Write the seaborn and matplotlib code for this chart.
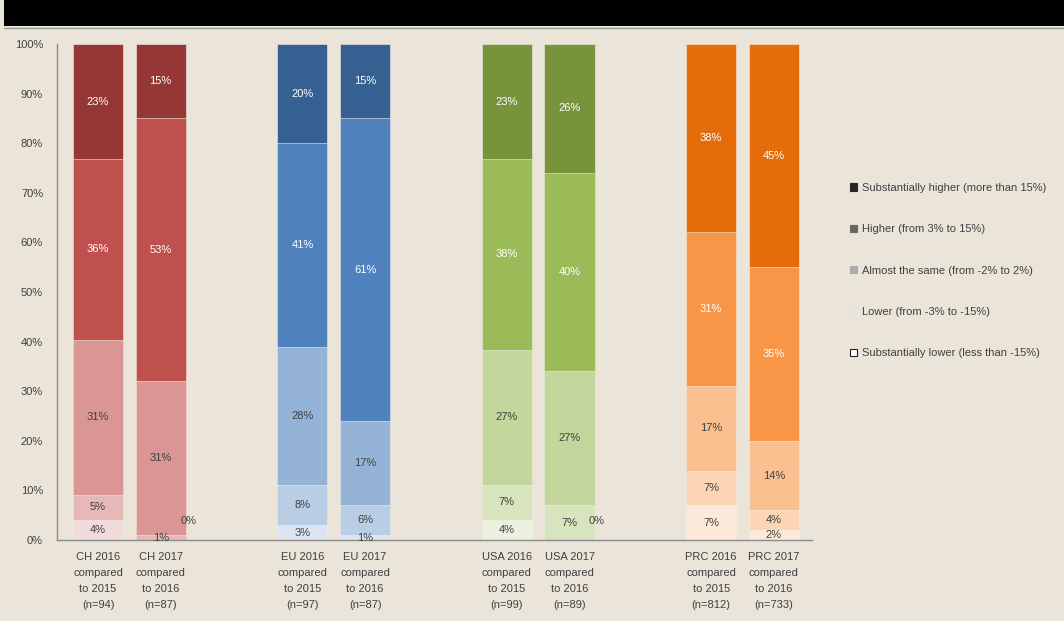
import matplotlib
matplotlib.use("Agg")
import matplotlib.pyplot as plt
import seaborn as sns
import pandas as pd
import numpy as np
from matplotlib.patches import Patch, Rectangle
from matplotlib.lines import Line2D

# ---------------- data ----------------
bars = ["CH 2016", "CH 2017", "EU 2016", "EU 2017",
        "USA 2016", "USA 2017", "PRC 2016", "PRC 2017"]
tick_labels = ["CH 2016\ncompared\nto 2015\n(n=94)", "CH 2017\ncompared\nto 2016\n(n=87)",
               "EU 2016\ncompared\nto 2015\n(n=97)", "EU 2017\ncompared\nto 2016\n(n=87)",
               "USA 2016\ncompared\nto 2015\n(n=99)", "USA 2017\ncompared\nto 2016\n(n=89)",
               "PRC 2016\ncompared\nto 2015\n(n=812)", "PRC 2017\ncompared\nto 2016\n(n=733)"]
levels = ["Substantially lower (less than -15%)", "Lower (from -3% to -15%)",
          "Almost the same (from -2% to 2%)", "Higher (from 3% to 15%)",
          "Substantially higher (more than 15%)"]
sub_lower = [4, 0, 3, 1, 4, 0, 7, 2]
lower = [5, 1, 8, 6, 7, 7, 7, 4]
same = [31, 31, 28, 17, 27, 27, 17, 14]
higher = [36, 53, 41, 61, 38, 40, 31, 35]
sub_higher = [23, 15, 20, 15, 23, 26, 38, 45]
y_ticks = [0, 10, 20, 30, 40, 50, 60, 70, 80, 90, 100]

# ---------------- styles ----------------
group_colors = [
    ["#F2DCDB", "#E6B9B8", "#D99694", "#C0504D", "#953735"],  # CH
    ["#DCE6F2", "#B9CDE5", "#95B3D7", "#4F81BD", "#366092"],  # EU
    ["#EBF1DE", "#D7E4BD", "#C3D69B", "#9BBB59", "#77933C"],  # USA
    ["#FDEADA", "#FCD5B5", "#FAC090", "#F79646", "#E46C0A"],  # PRC
]
legend_colors = ["#FFFFFF", "#E3E3E3", "#ABABAB", "#666666", "#262626"]
BG = "#EBE4D9"
TXT = "#404040"

sns.set_style("white")
plt.rcParams["font.family"] = ["Liberation Sans", "DejaVu Sans"]

vals = np.array([sub_lower, lower, same, higher, sub_higher], dtype=float)
totals = vals.sum(axis=0)
norm = vals / totals * 100
cum = np.cumsum(norm, axis=0)

group_gap = 3.26
positions = [(i // 2) * group_gap + (i % 2) for i in range(len(bars))]

fig = plt.figure(figsize=(10.64, 6.21), dpi=100, facecolor=BG)
ax = fig.add_axes([57 / 1064, 1 - 540 / 621, (812 - 57) / 1064, (540 - 44) / 621])
ax.set_facecolor(BG)

for li in reversed(range(5)):
    d = pd.DataFrame({"bar": bars, "pos": positions, "cum": cum[li]})
    pal = {b: group_colors[i // 2][li] for i, b in enumerate(bars)}
    sns.barplot(data=d, x="pos", y="cum", hue="bar", palette=pal, native_scale=True,
                dodge=False, legend=False, width=0.8, saturation=1, errorbar=None,
                edgecolor="#F3EEE6", linewidth=0.4, ax=ax)

# segment labels
for li in range(5):
    for i in range(len(bars)):
        v = vals[li, i]
        x = positions[i]
        if v == 0:
            ax.text(x + 0.44, 3.8, "0%", ha="center", va="center", fontsize=8, color=TXT)
            continue
        yc = cum[li, i] - norm[li, i] / 2
        col = "white" if li >= 3 else TXT
        ax.text(x, yc, f"{int(v)}%", ha="center", va="center", fontsize=8, color=col)

ax.set_xlim(-0.654, (812 - 98) / 62.7)
ax.set_ylim(0, 100)
ax.set_xticks(positions)
ax.set_xticklabels(tick_labels, fontsize=8, color=TXT, linespacing=1.75)
ax.set_yticks(y_ticks)
ax.set_yticklabels([f"{t}%" for t in y_ticks], fontsize=8, color=TXT)
ax.tick_params(axis="x", length=0, pad=9)
ax.tick_params(axis="y", length=0, pad=10)
ax.set_xlabel("")
ax.set_ylabel("")
for s in ["top", "right"]:
    ax.spines[s].set_visible(False)
for s in ["left", "bottom"]:
    ax.spines[s].set_color("#8C8C8C")
    ax.spines[s].set_linewidth(1.0)

# legend
handles = []
for li in reversed(range(5)):
    ec = "#202020" if li == 0 else legend_colors[li]
    handles.append(Patch(facecolor=legend_colors[li], edgecolor=ec, linewidth=0.8))
fig.legend(handles, list(reversed(levels)), loc="upper left",
           bbox_to_anchor=(840 / 1064, 1 - 173 / 621), frameon=False, fontsize=8,
           handlelength=0.65, handleheight=0.65, handletextpad=0.4, labelspacing=2.82,
           labelcolor=TXT)

# top banner
fig.patches.append(Rectangle((4 / 1064, 1 - 26 / 621), 1, 26 / 621, transform=fig.transFigure,
                             facecolor="black", edgecolor="none", zorder=10))
fig.lines.append(Line2D([4 / 1064, 1], [1 - 27.5 / 621, 1 - 27.5 / 621], transform=fig.transFigure,
                        color="#9A9A9A", linewidth=1.0))

fig.savefig("out.png", dpi=100, facecolor=BG)
